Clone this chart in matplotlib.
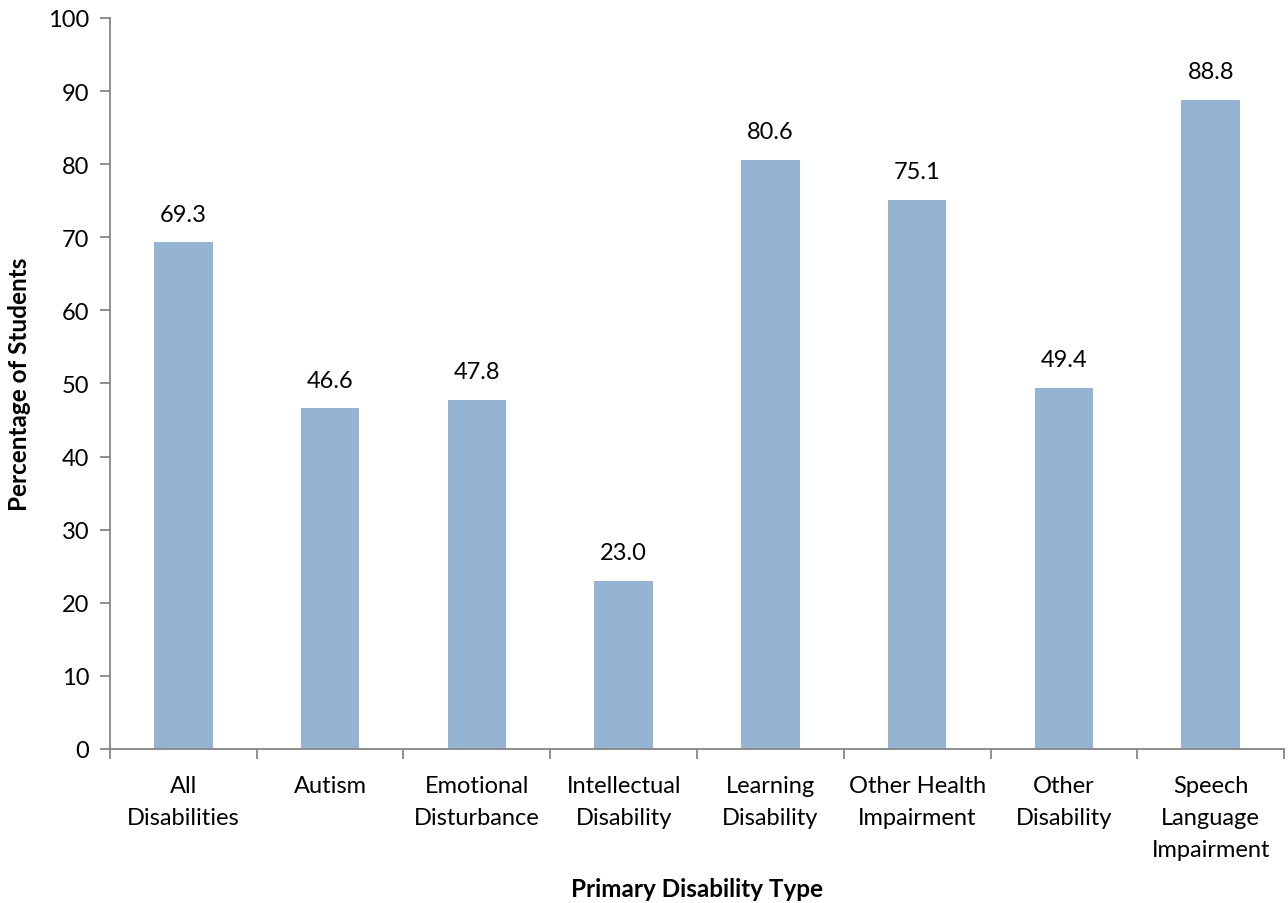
import matplotlib
matplotlib.use("Agg")
import matplotlib.pyplot as plt
import numpy as np

plt.rcParams['font.family'] = ['Lato', 'DejaVu Sans']

categories = ["All\nDisabilities", "Autism", "Emotional\nDisturbance", "Intellectual\nDisability",
              "Learning\nDisability", "Other Health\nImpairment", "Other\nDisability",
              "Speech\nLanguage\nImpairment"]
values = [69.3, 46.6, 47.8, 23.0, 80.6, 75.1, 49.4, 88.8]
y_ticks = list(range(0, 101, 10))

bar_color = "#95B3D3"
axis_color = "#868686"

fig = plt.figure(figsize=(12.88, 9.04), dpi=100)
ax = fig.add_axes([0.0854, 0.1704, 0.9115, 0.8086])

x = np.arange(len(categories))
ax.bar(x, values, width=0.40, color=bar_color, zorder=2)

for xi, v in zip(x, values):
    ax.text(xi, v + 2.4, f"{v:.1f}", ha="center", va="bottom", fontsize=17, color="black")

ax.set_xlim(-0.5, len(categories) - 0.5)
ax.set_ylim(0, 100)
ax.set_yticks(y_ticks)
ax.set_yticklabels([str(t) for t in y_ticks], fontsize=17)

ax.set_xticks(x)
ax.set_xticklabels(categories, fontsize=17, linespacing=1.65, va="top")
ax.set_xticks(np.arange(-0.5, len(categories) + 0.5, 1), minor=True)
ax.tick_params(axis="x", which="major", length=0, pad=19)
ax.tick_params(axis="x", which="minor", length=7, color=axis_color, width=1.3, direction="out")
ax.tick_params(axis="y", length=7, color=axis_color, width=1.3, direction="out", pad=8)

for side in ["top", "right"]:
    ax.spines[side].set_visible(False)
for side in ["left", "bottom"]:
    ax.spines[side].set_color(axis_color)
    ax.spines[side].set_linewidth(1.3)

ax.set_ylabel("Percentage of Students", fontsize=17.5, fontweight="bold", labelpad=12)
ax.set_xlabel("Primary Disability Type", fontsize=17.5, fontweight="bold", labelpad=12)

fig.savefig("out.png", dpi=100)
